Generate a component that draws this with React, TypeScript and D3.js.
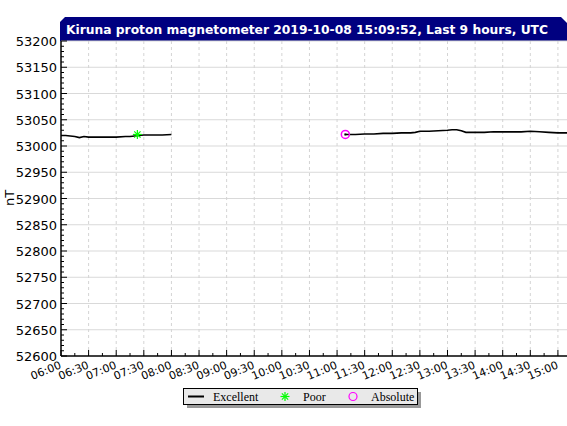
import React, { useEffect } from 'react';
import * as d3 from 'd3';

const width = 567;
const height = 426;

// minutes after 06:00 UTC, field in nT
const morningMin = [0, 5, 10, 15, 20, 25, 30, 40, 50, 60, 70, 75, 80, 85, 90, 100, 110, 120];
const morningNT = [53020, 53020, 53019, 53018, 53016, 53018, 53017, 53017, 53017, 53017, 53018, 53018, 53019, 53020, 53021, 53021, 53021, 53022];

const afternoonMin = [309, 320, 330, 340, 350, 360, 370, 380, 385, 390, 400, 410, 420, 425, 430, 435, 440, 450, 460, 470, 480, 490, 500, 510, 520, 530, 540, 550];
const afternoonNT = [53022, 53022, 53023, 53023, 53024, 53024, 53025, 53025, 53026, 53028, 53028, 53029, 53030, 53031, 53031, 53029, 53026, 53026, 53026, 53027, 53027, 53027, 53027, 53028, 53027, 53026, 53025, 53025];

const poorMin = [83];
const poorNT = [53022];
const absoluteMin = [309];
const absoluteNT = [53022];

const xTickLabels = ['06:00', '06:30', '07:00', '07:30', '08:00', '08:30', '09:00', '09:30', '10:00', '10:30', '11:00', '11:30', '12:00', '12:30', '13:00', '13:30', '14:00', '14:30', '15:00'];
const yTicks = [52600, 52650, 52700, 52750, 52800, 52850, 52900, 52950, 53000, 53050, 53100, 53150, 53200];

const title = 'Kiruna proton magnetometer 2019-10-08 15:09:52, Last 9 hours, UTC';

const sans = 'DejaVu Sans, sans-serif';
const serif = 'Liberation Serif, serif';

const Star = ({ x, y, r, color }: { x: number; y: number; r: number; color: string }) => (
  <g stroke={color} strokeWidth={1.2}>
    <line x1={x - r} y1={y} x2={x + r} y2={y} />
    <line x1={x} y1={y - r} x2={x} y2={y + r} />
    <line x1={x - r * 0.7} y1={y - r * 0.7} x2={x + r * 0.7} y2={y + r * 0.7} />
    <line x1={x - r * 0.7} y1={y + r * 0.7} x2={x + r * 0.7} y2={y - r * 0.7} />
  </g>
);

const App: React.FC = () => {
  useEffect(() => {
    document.body.style.margin = '0';
  }, []);

  const left = 61;
  const top = 41;
  const bottom = 356;

  const x = d3.scaleLinear().domain([0, 549.87]).range([left, width]);
  const y = d3.scaleLinear().domain([52600, 53200]).range([bottom, top]);

  const line = d3
    .line<[number, number]>()
    .x(d => x(d[0]))
    .y(d => y(d[1]));

  const morning = morningMin.map((m, i) => [m, morningNT[i]] as [number, number]);
  const afternoon = afternoonMin.map((m, i) => [m, afternoonNT[i]] as [number, number]);

  const majorX = xTickLabels.map((_, i) => i * 30);
  const minorX = d3.range(15, 550, 30);
  const minorY = d3.range(52600, 53201, 10).filter(v => v % 50 !== 0);

  return (
    <svg width={width} height={height} style={{ display: 'block', background: '#fff' }}>
      {/* title bar */}
      <path
        d={`M${left - 1},${top} L${left - 1},22 L${left + 4},17 L${width - 6},17 L${width},23 L${width},${top} Z`}
        fill="#000080"
      />
      <text x={66} y={34} fill="#fff" fontFamily={sans} fontWeight="bold" fontSize={12} textLength={482} lengthAdjust="spacingAndGlyphs">
        {title}
      </text>

      {/* grid */}
      {yTicks.slice(1).map(v => (
        <line key={`gy${v}`} x1={left} x2={width} y1={y(v)} y2={y(v)} stroke="#d9d9d9" strokeWidth={1} />
      ))}
      {majorX.slice(1).map(m => (
        <line key={`gx${m}`} x1={x(m)} x2={x(m)} y1={top} y2={bottom} stroke="#d4d4d4" strokeDasharray="3,3" />
      ))}

      {/* axes */}
      <line x1={left} x2={left} y1={top} y2={bottom} stroke="#000" strokeWidth={1.5} />
      <line x1={left} x2={width} y1={bottom} y2={bottom} stroke="#000" strokeWidth={1.5} />
      {yTicks.map(v => (
        <g key={`ty${v}`}>
          <line x1={left} x2={left + 6} y1={y(v)} y2={y(v)} stroke="#000" />
          <text x={57} y={y(v) + 5} textAnchor="end" fontFamily={sans} fontSize={13} fill="#000">
            {v}
          </text>
        </g>
      ))}
      {minorY.map(v => (
        <line key={`my${v}`} x1={left} x2={left + 3} y1={y(v)} y2={y(v)} stroke="#000" />
      ))}
      {majorX.map((m, i) => (
        <g key={`tx${m}`}>
          <line x1={x(m)} x2={x(m)} y1={bottom} y2={bottom - 6} stroke="#000" />
          <text
            transform={`translate(${x(m) + 1},${bottom + 12}) rotate(-22)`}
            textAnchor="end"
            fontFamily={sans}
            fontSize={11}
            fill="#000"
          >
            {xTickLabels[i]}
          </text>
        </g>
      ))}
      {minorX.map(m => (
        <line key={`mx${m}`} x1={x(m)} x2={x(m)} y1={bottom} y2={bottom - 3} stroke="#000" />
      ))}
      <text transform="translate(14,198) rotate(-90)" textAnchor="middle" fontFamily={sans} fontSize={13}>
        nT
      </text>

      {/* data */}
      <path d={line(morning) ?? ''} fill="none" stroke="#000" strokeWidth={1.6} />
      <path d={line(afternoon) ?? ''} fill="none" stroke="#000" strokeWidth={1.6} />
      {poorMin.map((m, i) => (
        <Star key={`p${m}`} x={x(m)} y={y(poorNT[i])} r={4.5} color="#00ff00" />
      ))}
      {absoluteMin.map((m, i) => (
        <g key={`a${m}`}>
          <circle cx={x(m)} cy={y(absoluteNT[i])} r={4} fill="none" stroke="#ff00ff" strokeWidth={1.5} />
          <rect x={x(m) - 1} y={y(absoluteNT[i]) - 1} width={2} height={2} fill="#000" />
        </g>
      ))}

      {/* legend */}
      <rect x={187} y={392} width={234} height={16} fill="#999" />
      <rect x={183.5} y={388.5} width={234} height={16} fill="#e9e9e9" stroke="#000" />
      <line x1={188} x2={204} y1={396.5} y2={396.5} stroke="#000" strokeWidth={2} />
      <text x={213} y={400.5} fontFamily={serif} fontSize={12} fill="#000">
        Excellent
      </text>
      <Star x={285} y={396.5} r={4.5} color="#00ff00" />
      <text x={303} y={400.5} fontFamily={serif} fontSize={12} fill="#000">
        Poor
      </text>
      <circle cx={353} cy={396.5} r={4} fill="none" stroke="#ff00ff" strokeWidth={1.2} />
      <text x={371} y={400.5} fontFamily={serif} fontSize={12} fill="#000">
        Absolute
      </text>
    </svg>
  );
};

export default App;
